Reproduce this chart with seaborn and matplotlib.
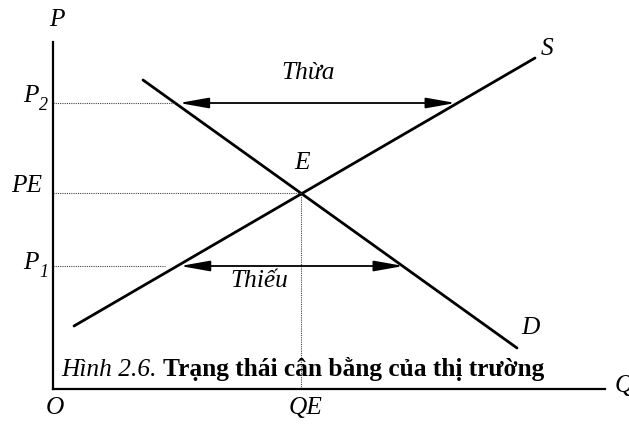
import numpy as np
import pandas as pd
import seaborn as sns
import matplotlib.pyplot as plt

sns.set_style("white")
plt.rcParams['font.family'] = ['Liberation Serif', 'DejaVu Serif']
plt.rcParams['text.color'] = 'black'

# %% Data (quantity / price units)

supply_q = [2.1, 48.2]
supply_p = [6.3, 33.1]
demand_q = [9.0, 46.4]
demand_p = [30.9, 4.1]

price_p2 = 28.6
price_pe = 19.6
price_p1 = 12.3
quantity_qe = 24.8

curves = pd.DataFrame({
    'Q': supply_q + demand_q,
    'P': supply_p + demand_p,
    'Curve': ['S', 'S', 'D', 'D'],
})


def q_on_supply(p):
    return np.interp(p, supply_p, supply_q)


def q_on_demand(p):
    return np.interp(p, demand_p[::-1], demand_q[::-1])


# %% Plot

fig = plt.figure(figsize=(6.29, 4.24), dpi=100)
ax = fig.add_axes([53 / 629, 35 / 424, 552 / 629, 347 / 424])

sns.lineplot(data=curves, x='Q', y='P', hue='Curve', units='Curve', estimator=None,
             palette={'S': 'black', 'D': 'black'}, linewidth=2.0, legend=False, ax=ax)

ax.set_xlim(0, 55.2)
ax.set_ylim(0, 34.7)
ax.set_xticks([])
ax.set_yticks([])
ax.set_xlabel('')
ax.set_ylabel('')
sns.despine(ax=ax)
for side in ['left', 'bottom']:
    ax.spines[side].set_linewidth(1.6)
    ax.spines[side].set_color('black')

dot = dict(color='#444444', lw=0.8, linestyle=(0, (1, 1)))
ax.plot([0, q_on_demand(price_p2)], [price_p2, price_p2], **dot)
ax.plot([0, quantity_qe], [price_pe, price_pe], **dot)
ax.plot([0, q_on_supply(price_p1) - 1.2], [price_p1, price_p1], **dot)
ax.plot([quantity_qe, quantity_qe], [0, price_pe], **dot)

arrow = dict(arrowstyle='<|-|>,head_length=1.8,head_width=0.32', lw=1.3, color='black',
             shrinkA=0, shrinkB=0, mutation_scale=10)
ax.annotate('', xy=(q_on_demand(price_p2) + 0.4, price_p2),
            xytext=(q_on_supply(price_p2) - 0.2, price_p2), arrowprops=arrow)
ax.annotate('', xy=(q_on_supply(price_p1) + 0.3, price_p1),
            xytext=(q_on_demand(price_p1) + 0.1, price_p1), arrowprops=arrow)

fs = 18.3
it = dict(fontsize=fs, style='italic', clip_on=False)


def sub_label(x, y, main, sub):
    # italic letter with a smaller italic subscript, right edge at x
    t = ax.text(x, y, main, ha='right', va='baseline', **it)
    ax.annotate(sub, xy=(1, 0), xycoords=t, xytext=(0.3, -2.5), textcoords='offset points',
                ha='left', va='baseline', fontsize=13, style='italic')


ax.text(0.4, 36.9, 'P', ha='center', va='center', **it)
sub_label(-1.4, 28.7, 'P', '2')
ax.text(-1.1, 20.3, 'PE', ha='right', va='center', **it)
sub_label(-1.4, 12.0, 'P', '1')
ax.text(0.2, -1.9, 'O', ha='center', va='center', **it)
ax.text(25.3, -1.9, 'QE', ha='center', va='center', **it)
ax.text(56.2, 0.3, 'Q', ha='left', va='center', **it)
ax.text(49.4, 34.0, 'S', ha='center', va='center', **it)
ax.text(47.7, 6.1, 'D', ha='center', va='center', **it)
ax.text(24.9, 22.6, 'E', ha='center', va='center', **it)
ax.text(25.5, 31.6, 'Thừa', ha='center', va='center', **it)
ax.text(20.6, 10.8, 'Thiếu', ha='center', va='center', **it)

cap = ax.text(0.8, 1.3, 'Hình 2.6. ', ha='left', va='baseline', **it)
ax.annotate('Trạng thái cân bằng của thị trường', xy=(1, 0), xycoords=cap,
            ha='left', va='bottom', fontsize=fs, fontweight='bold')

fig.savefig('out.png', dpi=100)
